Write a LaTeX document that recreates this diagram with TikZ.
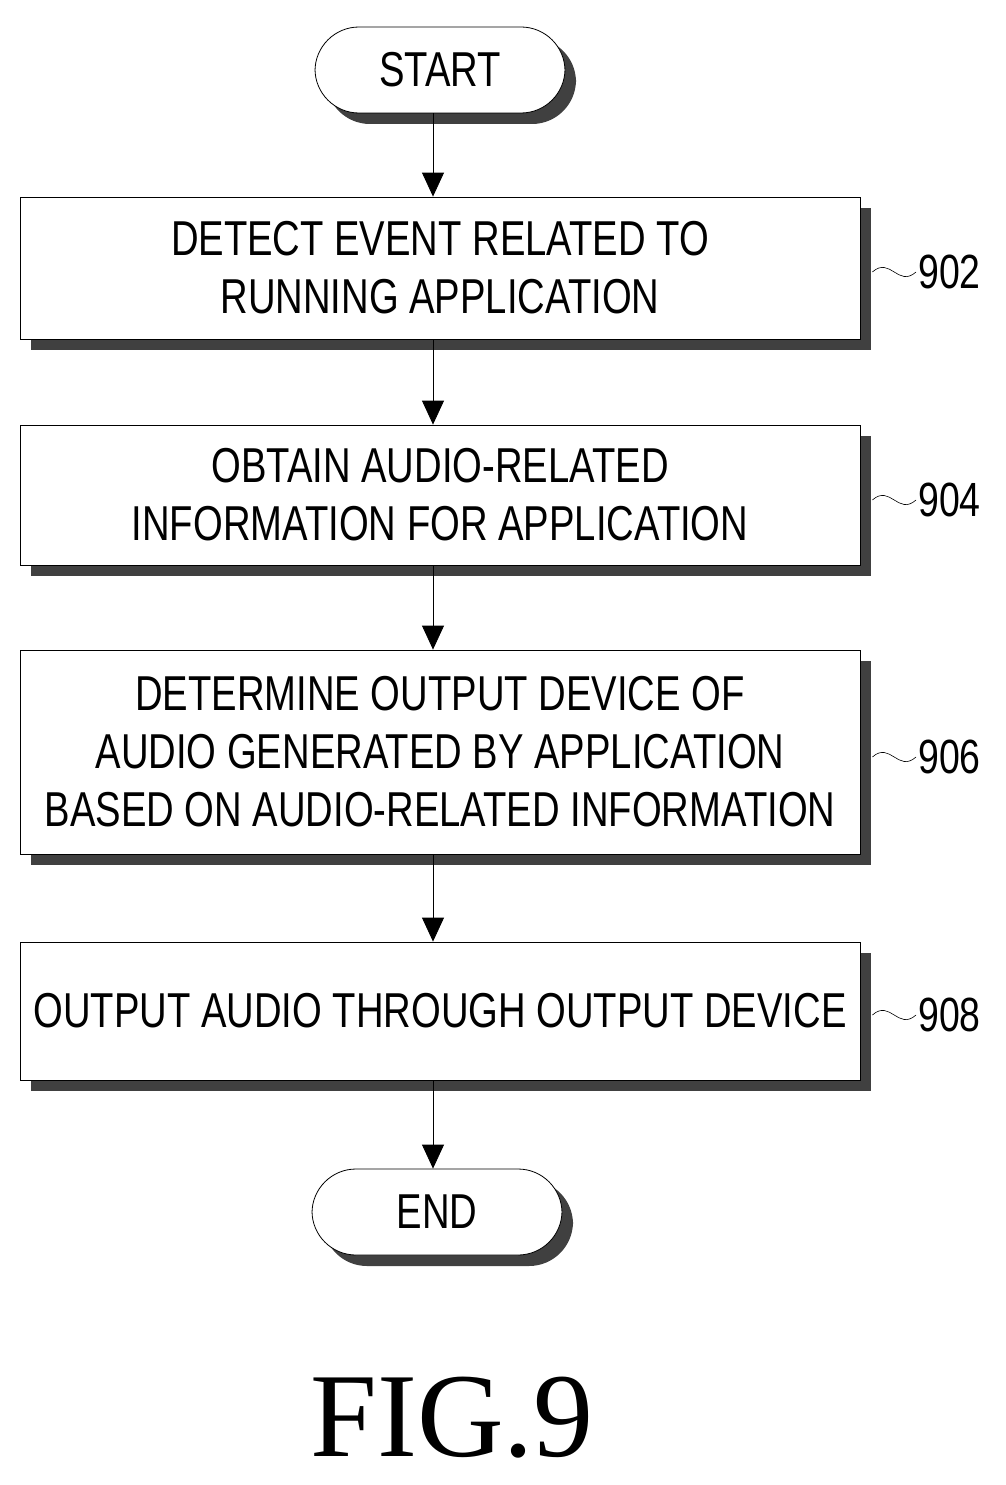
\documentclass[tikz,border=0pt]{standalone}
\usepackage{fontspec}
\setmainfont{Liberation Serif}
\newfontfamily\flowfont[FakeStretch=0.78]{Liberation Sans}
\usetikzlibrary{shadows,arrows.meta}
\begin{document}
\begin{tikzpicture}[x=1pt,y=-1pt,
    boxshadow/.style={drop shadow={shadow xshift=11pt,shadow yshift=-11pt,fill=black!75,opacity=1}},
    stepbox/.style={draw,thick,fill=white,boxshadow,minimum width=840pt,align=center,
        font=\flowfont\fontsize{49}{58}\selectfont,inner sep=0pt},
    term/.style={draw,thick,fill=white,boxshadow,rounded corners=44pt,minimum width=250pt,
        minimum height=86pt,font=\flowfont\fontsize{49}{58}\selectfont},
    ref/.style={font=\flowfont\fontsize{48}{48}\selectfont,anchor=west,inner sep=2pt},
    flow/.style={thick,-{Triangle[width=22pt,length=24pt]}}]
\useasboundingbox (0,0) rectangle (1005,1485);
\node[term] (start) at (440,70) {START};
\node[stepbox,minimum height=142pt] (b902) at (440,268) {DETECT EVENT RELATED TO\\RUNNING APPLICATION};
\node[stepbox,minimum height=140pt] (b904) at (440,495) {OBTAIN AUDIO-RELATED\\INFORMATION FOR APPLICATION};
\node[stepbox,minimum height=204pt] (b906) at (440,752) {DETERMINE OUTPUT DEVICE OF\\AUDIO GENERATED BY APPLICATION\\BASED ON AUDIO-RELATED INFORMATION};
\node[stepbox,minimum height=138pt] (b908) at (440,1011) {OUTPUT AUDIO THROUGH OUTPUT DEVICE};
\node[term] (end) at (437,1212) {END};
\draw[flow] (start.south -| 433,0) -- (b902.north -| 433,0);
\draw[flow] (b902.south -| 433,0) -- (b904.north -| 433,0);
\draw[flow] (b904.south -| 433,0) -- (b906.north -| 433,0);
\draw[flow] (b906.south -| 433,0) -- (b908.north -| 433,0);
\draw[flow] (b908.south -| 433,0) -- (end.north -| 433,0);
% step numbers
\node[ref] (l902) at (916,272) {902};
\node[ref] (l904) at (916,500) {904};
\node[ref] (l906) at (916,757) {906};
\node[ref] (l908) at (916,1015) {908};
\foreach \b/\l in {b902/l902,b904/l904,b906/l906,b908/l908}
  \draw[semithick] (\b.east |- \l.west) ++(12,0) .. controls +(18,-16) and +(-18,16) .. (\l.west);
\node[font=\fontsize{120}{120}\selectfont] (fig) at (452,1418) {FIG.9};
\end{tikzpicture}
\end{document}
